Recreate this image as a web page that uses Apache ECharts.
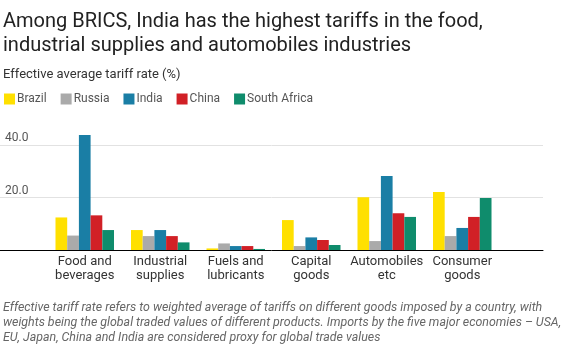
<!DOCTYPE html>
<html><head><meta charset="utf-8">
<script src="https://cdn.jsdelivr.net/npm/echarts@6/dist/echarts.min.js"></script>
<style>html,body{margin:0;padding:0;background:#fff}#c{width:564px;height:347px}</style>
</head><body><div id="c"></div>
<script>
const categories = ['Food and\nbeverages','Industrial\nsupplies','Fuels and\nlubricants','Capital\ngoods','Automobiles\netc','Consumer\ngoods'];
const brazil = [12.4, 7.6, 0.6, 11.4, 20.1, 22.1];
const russia = [5.5, 5.3, 2.5, 1.5, 3.4, 5.3];
const india = [43.8, 7.6, 1.5, 4.8, 28.2, 8.4];
const china = [13.2, 5.3, 1.5, 3.8, 14.0, 12.6];
const southAfrica = [7.6, 2.9, 0.4, 1.9, 12.6, 19.8];
const seriesNames = ['Brazil','Russia','India','China','South Africa'];
const colors = ['#ffe000','#aaaaaa','#1a7ea5','#d12026','#0f8c6c'];
const yTicks = [0, 20, 40];

const chart = echarts.init(document.getElementById('c'));
const font = 'Roboto, sans-serif';
const dataSets = [brazil, russia, india, china, southAfrica];
chart.setOption({
  animation: false,
  textStyle: {fontFamily: font},
  title: [
    {text: 'Among BRICS, India has the highest tariffs in the food,\nindustrial supplies and automobiles industries',
     left: 3, top: 10, padding: 0,
     textStyle: {fontFamily: font, fontSize: 20, fontWeight: 'normal', color: '#222', lineHeight: 24}},
    {text: 'Effective average tariff rate (%)', left: 3, top: 68, padding: 0,
     textStyle: {fontFamily: font, fontSize: 13, fontWeight: 'normal', color: '#333'}}
  ],
  legend: {
    left: 4, top: 93, padding: 0, itemWidth: 11, itemHeight: 11, itemGap: 14,
    icon: 'rect', data: seriesNames,
    textStyle: {fontFamily: font, fontSize: 12, color: '#555', padding: [0,0,0,-3]}
  },
  graphic: [{
    type: 'text', left: 3, top: 300,
    style: {text: 'Effective tariff rate refers to weighted average of tariffs on different goods imposed by a country, with\nweights being the global traded values of different products. Imports by the five major economies – USA,\nEU, Japan, China and India are considered proxy for global trade values',
      font: 'italic 12.4px Roboto, sans-serif', fill: '#666', lineHeight: 15}
  }],
  grid: [
    {left: 0, right: 21, top: 145, bottom: 97},
    {left: 47, right: 64, top: 145, bottom: 97}
  ],
  xAxis: [
    {type: 'value', gridIndex: 0, min: 0, max: 1, axisLabel: {show: false}, axisTick: {show: false},
     splitLine: {show: false}, axisLine: {show: true, onZero: false, lineStyle: {color: '#000', width: 1}}},
    {type: 'category', gridIndex: 1, data: categories, axisLine: {show: false}, axisTick: {show: false},
     axisLabel: {interval: 0, margin: 5, fontSize: 13, lineHeight: 14, color: '#333', fontFamily: font}}
  ],
  yAxis: [
    {type: 'value', gridIndex: 0, min: yTicks[0], max: yTicks[yTicks.length-1], interval: 20,
     axisLine: {show: false}, axisTick: {show: false},
     splitLine: {lineStyle: {color: '#e2e2e2', width: 1}},
     axisLabel: {inside: true, margin: 5, verticalAlign: 'bottom', padding: [0,0,1,0], fontSize: 12, color: '#555',
       formatter: v => v === 0 ? '' : v.toFixed(1)}},
    {type: 'value', gridIndex: 1, min: 0, max: 40, show: false}
  ],
  series: dataSets.map((d, i) => ({
    name: seriesNames[i], type: 'bar', xAxisIndex: 1, yAxisIndex: 1, data: d,
    itemStyle: {color: colors[i]}, barGap: '0%', barCategoryGap: '22.5%', clip: false
  }))
});
</script></body></html>
